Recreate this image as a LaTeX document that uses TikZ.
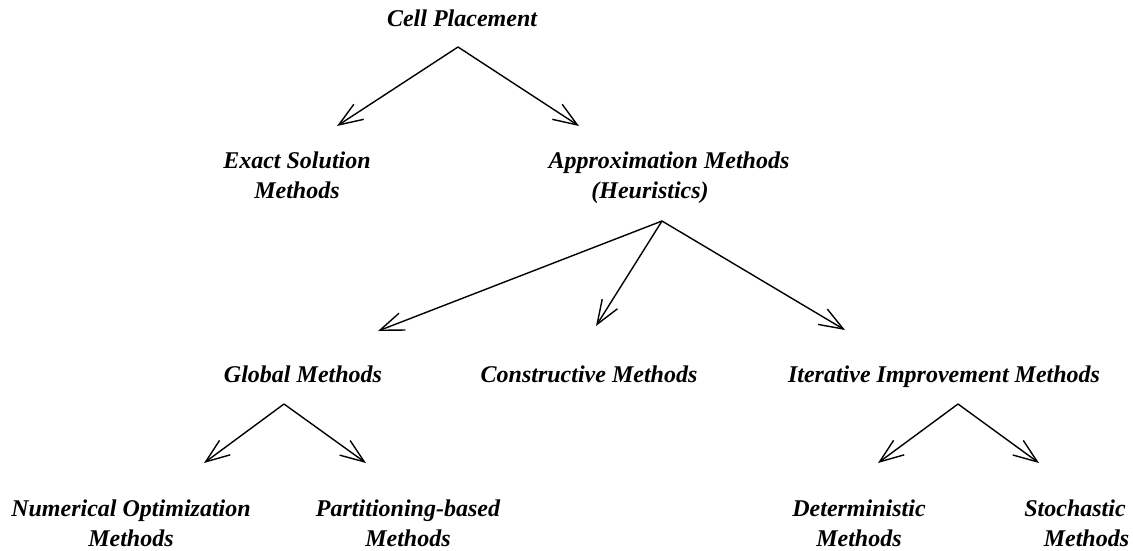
\documentclass[tikz,border=0pt]{standalone}
\usepackage{fontspec}
\setmainfont{Liberation Serif}
\usetikzlibrary{arrows.meta}
\begin{document}
\begin{tikzpicture}[x=1pt,y=-1pt,
  label/.style={inner sep=0pt,anchor=base,align=center,
    font=\fontsize{24}{30}\selectfont\bfseries\itshape},
  link/.style={line width=1.4pt,line join=miter,
    -{Straight Barb[length=24pt,width=18pt,line width=1.4pt]}}]
\useasboundingbox (0,0) rectangle (1133,550);

% category labels (base anchor sits on the last line)
\node[label] (cp)   at (462,26)  {Cell Placement};
\node[label] (ex)   at (297,198) {Exact Solution\\Methods};
\node[label] (ap)   at (669,198) {Approximation Methods\\\hspace*{-38pt}(Heuristics)};
\node[label] (gl)   at (303,382) {Global Methods};
\node[label] (co)   at (589,382) {Constructive Methods};
\node[label] (it)   at (944,382) {Iterative Improvement Methods};
\node[label] (nu)   at (131,546) {Numerical Optimization\\Methods};
\node[label] (pa)   at (408,546) {Partitioning-based\\Methods};
\node[label] (de)   at (859,546) {Deterministic\\Methods};
\node[label] (st)   at (1075,546) {Stochastic\\\hspace*{23pt}Methods};

% branch points and arrow ends
\coordinate (cpA) at (458,47);
\coordinate (exT) at (337,126);
\coordinate (apT) at (579,126);
\coordinate (apA) at (662,221);
\coordinate (glT) at (378,331);
\coordinate (coT) at (596,326);
\coordinate (itT) at (845,330);
\coordinate (glA) at (284,404);
\coordinate (nuT) at (204,463);
\coordinate (paT) at (366,463);
\coordinate (itA) at (958,404);
\coordinate (deT) at (878,463);
\coordinate (stT) at (1039,463);

\draw[link] (cpA) -- (exT);
\draw[link] (cpA) -- (apT);
\draw[link] (apA) -- (glT);
\draw[link] (apA) -- (coT);
\draw[link] (apA) -- (itT);
\draw[link] (glA) -- (nuT);
\draw[link] (glA) -- (paT);
\draw[link] (itA) -- (deT);
\draw[link] (itA) -- (stT);
\end{tikzpicture}
\end{document}
